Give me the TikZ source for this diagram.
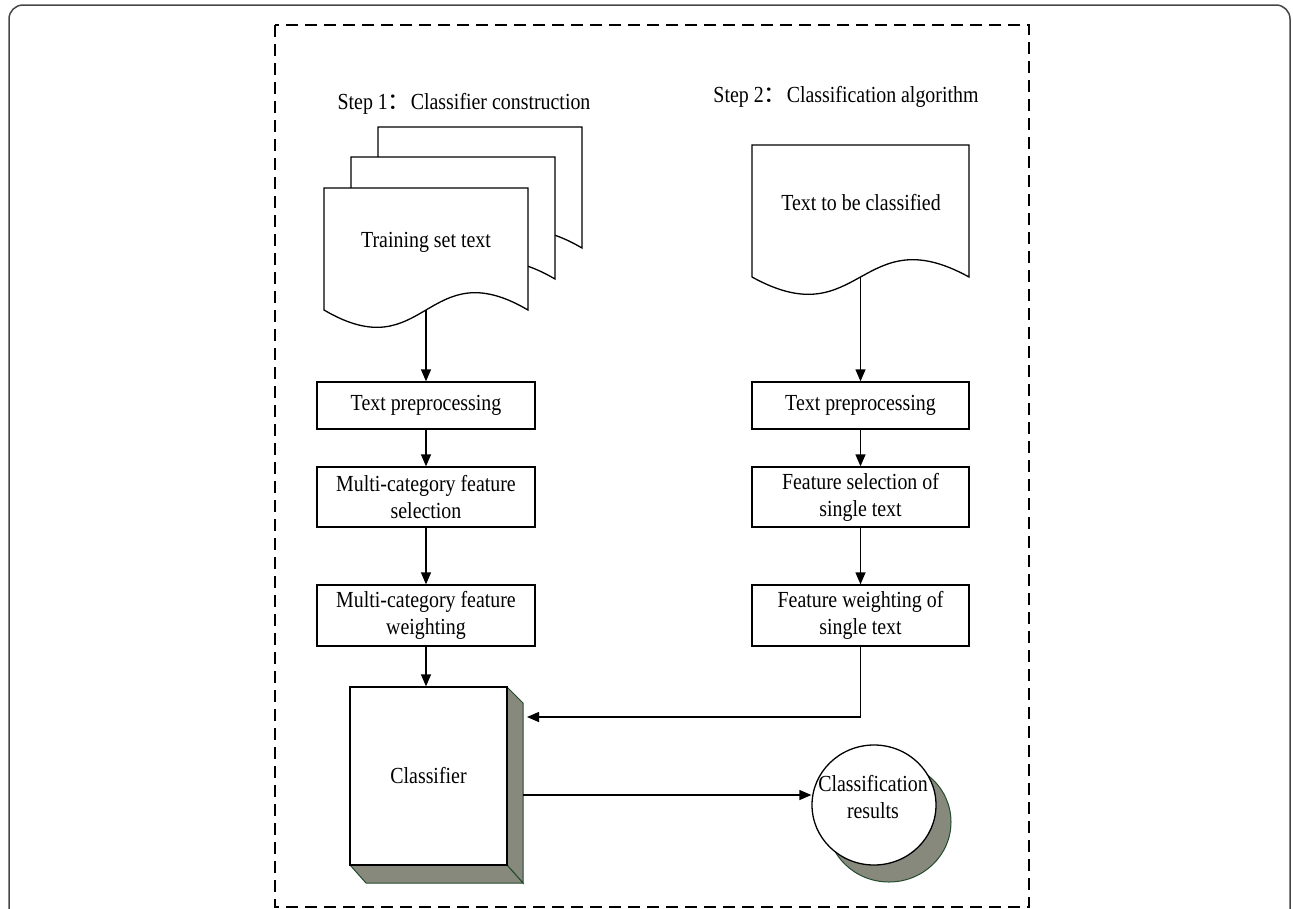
\documentclass[tikz,border=0pt]{standalone}
\usepackage{fontspec}
\setmainfont{Liberation Serif}[FakeStretch=0.865]
\newfontfamily\cjk{Noto Sans CJK SC}
\usetikzlibrary{arrows.meta,shapes.geometric,calc}
\definecolor{shade}{RGB}{135,137,125}
\definecolor{edge}{RGB}{35,75,45}
\definecolor{framec}{RGB}{70,70,70}
\begin{document}
\begin{tikzpicture}[x=1pt,y=-1pt,
  every node/.style={font=\fontsize{23}{27}\selectfont, inner sep=0pt},
  ln/.style={line width=1.3pt},
  arr/.style={ln,-{Triangle[length=12pt,width=10pt]}},
  procbox/.style={draw, ln, align=center, fill=white},
  docshape/.style={draw, ln, fill=white},
  face/.style={draw=edge, line width=1pt, fill=shade},
  dashframe/.style={line width=1.3pt, dash pattern=on 12pt off 7pt}]
\useasboundingbox (0,0) rectangle (1293,908);
\clip (0,0) rectangle (1293,908);
% outer frame
\draw[framec, line width=1.5pt, rounded corners=14pt] (9,5) rectangle (1290,960);
% dashed frame
\draw[dashframe] (275,25) rectangle (1029,907);
% titles
\node (s1) at (464,104) {Step 1{\cjk ：}Classifier construction};
\node (s2) at (846,97) {Step 2{\cjk ：}Classification algorithm};
% document stack (left)
\path[docshape] (378,248) -- (378,127) -- (582,127) -- (582,248) .. controls (480,188) and (480,308) .. (378,248) -- cycle;
\path[docshape] (351,279) -- (351,157) -- (555,157) -- (555,279) .. controls (453,219) and (453,339) .. (351,279) -- cycle;
\path[docshape] (324,310) -- (324,188) -- (528,188) -- (528,310) .. controls (426,250) and (426,370) .. (324,310) -- cycle;
\node (trL) at (426,242) {Training set text};
\coordinate (docLb) at (426,310);
% document (right)
\path[docshape] (752,277) -- (752,145) -- (969,145) -- (969,277) .. controls (860.5,217) and (860.5,337) .. (752,277) -- cycle;
\node (tcR) at (861,203) {Text to be classified};
\coordinate (docRb) at (860.5,277);
% left process boxes
\node[procbox, minimum width=218pt, minimum height=47pt] (tpL) at (426,405.5) {Text preprocessing};
\node[procbox, minimum width=218pt, minimum height=60pt] (fsL) at (426,497) {Multi-category feature\\selection};
\node[procbox, minimum width=218pt, minimum height=61pt] (fwL) at (426,615.5) {Multi-category feature\\weighting};
% right process boxes
\node[procbox, minimum width=217pt, minimum height=47pt] (tpR) at (860.5,405.5) {Text preprocessing};
\node[procbox, minimum width=217pt, minimum height=60pt] (fsR) at (860.5,497) {Feature selection of\\single text};
\node[procbox, minimum width=217pt, minimum height=61pt] (fwR) at (860.5,615.5) {Feature weighting of\\single text};
% classifier 3D box
\path[face] (507,687) -- (523,703) -- (523,883) -- (507,865) -- cycle;
\path[face] (350,865) -- (507,865) -- (523,883) -- (366,883) -- cycle;
\node[procbox, minimum width=157pt, minimum height=178pt] (cls) at (428.5,776) {Classifier};
\coordinate (clsIn) at (527,717);
\coordinate (clsOut) at (523,795);
% results
\path[face] (889,822) ellipse [x radius=62, y radius=60];
\node[draw, ln, fill=white, ellipse, minimum width=124pt, minimum height=120pt] (res) at (874,805) {};
\node[align=center] (resT) at (873,797) {Classification\\results};
% connectors
\draw[arr] (docLb) -- (tpL.north);
\draw[arr] (tpL.south) -- (fsL.north);
\draw[arr] (fsL.south) -- (fwL.north);
\draw[arr] (fwL.south) -- (fwL.south |- cls.north);
\draw[arr] (docRb) -- (tpR.north);
\draw[arr] (tpR.south) -- (fsR.north);
\draw[arr] (fsR.south) -- (fwR.north);
\draw[arr] (fwR.south) |- (clsIn);
\draw[arr] (clsOut) -- (clsOut -| res.west);
\end{tikzpicture}
\end{document}
